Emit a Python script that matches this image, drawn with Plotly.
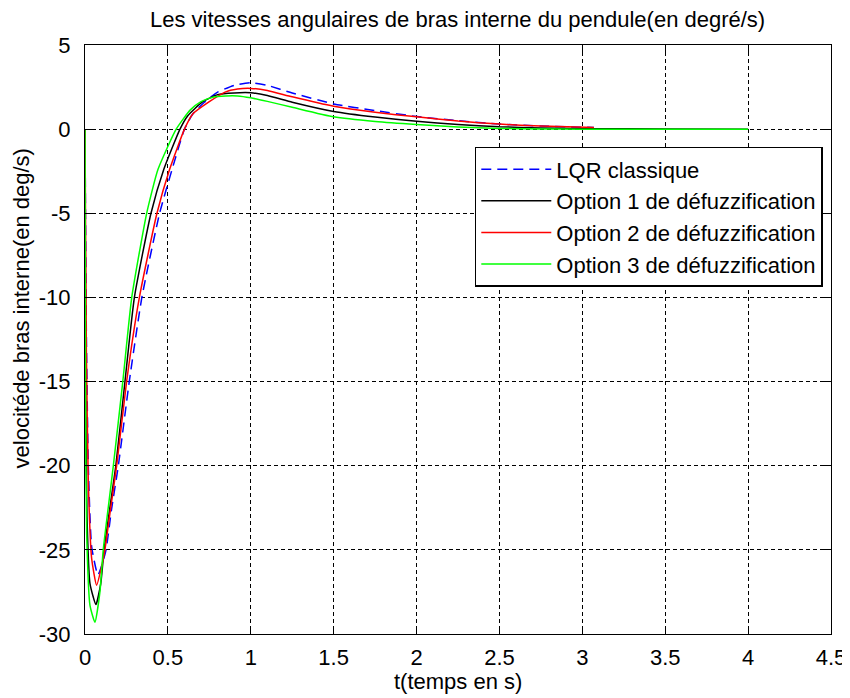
import plotly.graph_objects as go

# ---- data ----
t_lqr = [0, 0.008, 0.02, 0.04, 0.078, 0.105, 0.127, 0.16, 0.201, 0.267, 0.343, 0.45, 0.525, 0.6, 0.65, 0.72, 0.8, 0.9, 1.0, 1.1, 1.25, 1.5, 1.75, 2.0, 2.25, 2.5, 2.75, 3.07]
v_lqr = [0, -12, -20, -24.8, -26.5, -25.8, -25, -22.6, -20, -15, -10, -5, -2.4, 0, 0.9, 1.6, 2.2, 2.6, 2.76, 2.6, 2.15, 1.5, 1.1, 0.75, 0.5, 0.3, 0.18, 0.1]

t_opt1 = [0, 0.004, 0.012, 0.03, 0.066, 0.095, 0.115, 0.15, 0.186, 0.241, 0.298, 0.398, 0.475, 0.573, 0.62, 0.71, 0.8, 0.9, 1.0, 1.1, 1.25, 1.5, 1.75, 2.0, 2.25, 2.5, 2.75, 3.0, 3.5, 4.0]
v_opt1 = [0, -15, -23, -27, -28.25, -27, -25, -22.5, -20, -15, -10, -5, -2.4, 0, 0.8, 1.63, 2.05, 2.15, 2.16, 2.0, 1.6, 1.05, 0.72, 0.47, 0.28, 0.14, 0.07, 0.03, 0.01, 0]

t_opt2 = [0, 0.008, 0.02, 0.04, 0.07, 0.1, 0.12, 0.155, 0.191, 0.251, 0.328, 0.434, 0.51, 0.6, 0.65, 0.75, 0.845, 0.92, 1.0, 1.1, 1.25, 1.5, 1.75, 2.0, 2.25, 2.5, 2.75, 3.07]
v_opt2 = [0, -13, -21, -25.5, -27.1, -26, -25, -22.5, -20, -15, -10, -5, -2.4, 0, 0.9, 1.63, 2.2, 2.38, 2.42, 2.3, 1.92, 1.36, 1.0, 0.73, 0.48, 0.3, 0.18, 0.1]

t_opt3 = [0, 0.003, 0.01, 0.03, 0.06, 0.09, 0.11, 0.14, 0.171, 0.228, 0.282, 0.372, 0.44, 0.55, 0.634, 0.7, 0.77, 0.85, 0.92, 1.0, 1.1, 1.25, 1.5, 1.75, 2.0, 2.25, 2.5, 2.75, 3.0, 4.0]
v_opt3 = [0, -16, -24, -28.3, -29.3, -27.5, -25, -22.5, -20, -15, -10, -5, -2.4, 0, 1.13, 1.63, 1.9, 1.97, 1.97, 1.86, 1.65, 1.3, 0.73, 0.45, 0.27, 0.13, 0.04, 0.01, 0, 0]

names = ["LQR classique", "Option 1 de défuzzification", "Option 2 de défuzzification", "Option 3 de défuzzification"]
x_ticks = [0, 0.5, 1, 1.5, 2, 2.5, 3, 3.5, 4, 4.5]
y_ticks = [5, 0, -5, -10, -15, -20, -25, -30]

FONT = "Liberation Sans, Arial, sans-serif"
FS = 22

fig = go.Figure()
fig.add_trace(go.Scatter(x=t_lqr, y=v_lqr, mode="lines", name=names[0],
                         line=dict(color="#0000ff", width=1.5, dash="10px,6px", shape="spline", smoothing=0.5)))
fig.add_trace(go.Scatter(x=t_opt1, y=v_opt1, mode="lines", name=names[1],
                         line=dict(color="#000000", width=1.5, shape="spline", smoothing=0.5)))
fig.add_trace(go.Scatter(x=t_opt2, y=v_opt2, mode="lines", name=names[2],
                         line=dict(color="#ff0000", width=1.5, shape="spline", smoothing=0.5)))
fig.add_trace(go.Scatter(x=t_opt3, y=v_opt3, mode="lines", name=names[3],
                         line=dict(color="#00ff00", width=1.5, shape="spline", smoothing=0.5)))

axis_common = dict(
    showline=True, linecolor="black", linewidth=1, mirror="ticks",
    ticks="inside", ticklen=7, tickcolor="black",
    showgrid=True, gridcolor="black", gridwidth=1, griddash="4px,3px",
    zeroline=False, automargin=False,
    tickfont=dict(family=FONT, size=FS, color="black"),
)

fig.update_layout(
    width=842, height=690,
    paper_bgcolor="white", plot_bgcolor="white",
    margin=dict(l=77, r=19, t=37, b=64),
    font=dict(family=FONT, size=FS, color="black"),
    title=dict(text="Les vitesses angulaires de bras interne du pendule(en degré/s)",
               x=0.534, xanchor="center", y=0.983, yanchor="middle",
               font=dict(family=FONT, size=FS, color="black")),
    xaxis=dict(range=[0, 4.5], tickvals=x_ticks, ticktext=[str(v) for v in x_ticks],
               ticklabelstandoff=4, **axis_common),
    yaxis=dict(range=[-30, 5], tickvals=y_ticks, ticktext=[str(v) for v in y_ticks],
               ticklabelstandoff=9, **axis_common),
    legend=dict(x=0.989, y=0.827, xanchor="right", yanchor="top",
                bgcolor="white", bordercolor="black", borderwidth=1.5,
                font=dict(family=FONT, size=FS, color="black"),
                tracegroupgap=0, itemwidth=70),
    showlegend=True,
    annotations=[
        dict(text="t(temps en s)", xref="paper", yref="paper", x=0.5, y=-0.08,
             xanchor="center", yanchor="middle", showarrow=False,
             font=dict(family=FONT, size=FS, color="black")),
        dict(text="velocitéde bras interne(en deg/s)", xref="paper", yref="paper",
             x=-0.085, y=0.552, xanchor="center", yanchor="middle", textangle=-90,
             showarrow=False, font=dict(family=FONT, size=FS, color="black")),
    ],
)

fig.write_html("out.html")
